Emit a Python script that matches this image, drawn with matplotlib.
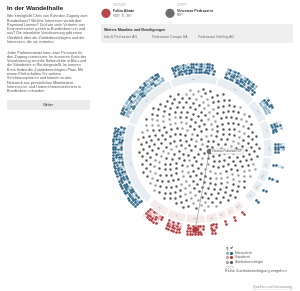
import numpy as np
import matplotlib
matplotlib.use("Agg")
import matplotlib.pyplot as plt
from matplotlib.patches import Wedge, Rectangle, Circle, Polygon

plt.rcParams['font.family'] = ['Liberation Sans', 'DejaVu Sans']

# ---------------- data ----------------
nr_parties = ["SVP", "SP", "FDP", "CVP", "GPS", "GLP", "BDP", "EVP", "Lega", "MCG", "CSP"]
nr_seats = [65, 43, 33, 27, 11, 7, 7, 2, 2, 1, 1]
nr_female = [11, 25, 7, 8, 6, 2, 2, 1, 0, 0, 0]
nr_open = [14, 10, 6, 5, 3, 2, 2, 1, 1, 0, 0]        # slots without access badge

sr_parties = ["CVP", "SP", "FDP", "SVP", "BDP", "GLP", "MCG"]
sr_seats = [13, 12, 13, 5, 1, 1, 1]
sr_female = [3, 3, 1, 0, 0, 0, 0]
sr_open = [4, 3, 3, 1, 0, 0, 0]

zutritt_total = 380
zutritt_female = 110

intro_p1 = ["Wer ermöglicht Chris von Rohr den Zugang zum",
            "Bundeshaus? Welche Interessen vertritt dort",
            "Raymond Loretan? Und wie viele Vertreter von",
            "Economiesuisse gehen in Bundesbern ein und",
            "aus? Die interaktive Visualisierung gibt einen",
            "Überblick über die Zutrittsberechtigten und die",
            "Interessen, die sie vertreten."]
intro_p2 = ["Jeder Parlamentarier kann zwei Personen für",
            "den Zugang nominieren. Im äusseren Kreis der",
            "Visualisierung sind die Nationalräte in Blau und",
            "die Ständeräte in Rot dargestellt. Im inneren",
            "Kreis finden die Zutrittsberechtigten Platz. Mit",
            "einem Klick erhalten Sie weitere",
            "Selektionsoptionen und können so das",
            "Netzwerk aus persönlichen Mitarbeitern,",
            "Interessens- und Unternehmensvertretern in",
            "Bundesbern erkunden."]
mandates = ["Isle & Pedrazzini AG", "Pedrazzini Campo SA", "Pedrazzini Holding AG"]

# ---------------- colours ----------------
NR_DARK, NR_LIGHT, NR_EDGE = "#2e6486", "#8fb3ca", "#b9c9d6"
SR_DARK, SR_LIGHT, SR_EDGE = "#b23a3f", "#e39a9c", "#e8b9b9"
ZU_DARK, ZU_LIGHT = "#575757", "#a0a0a0"
BAND_NR, BAND_SR = "#e8edf1", "#f7eaea"

fig = plt.figure(figsize=(3.0, 2.91), dpi=100)
ax = fig.add_axes([0, 0, 1, 1])
ax.set_xlim(0, 300)
ax.set_ylim(291, 0)
ax.axis("off")

CX, CY = 198.0, 149.0


def pol(r, phi):
    a = np.deg2rad(phi)
    return CX + r * np.cos(a), CY - r * np.sin(a)


def seg_angles(seats, start, end, gap=1.4):
    w = 8 + 0.85 * np.asarray(seats, float)
    span = end - start
    edges = start + np.concatenate([[0], np.cumsum(w)]) / w.sum() * span
    sgn = np.sign(span)
    return [(edges[i] + sgn * gap / 2, edges[i + 1] - sgn * gap / 2) for i in range(len(seats))]


def spread(n, k):
    """k indices spread evenly over range(n)"""
    if k <= 0:
        return set()
    return set(int(np.floor((j + 0.5) * n / k)) for j in range(k))


ROWS = 4
R0, DR = 77.0, 2.8
DPHI = np.rad2deg(2.6 / 82.0)


def draw_chamber(parties, seats, female, opn, start, end, dark, light, edge, band, collect):
    angs = seg_angles(seats, start, end)
    for p, s, f, o, (a0, a1) in zip(parties, seats, female, opn, angs):
        lo, hi = min(a0, a1), max(a0, a1)
        ax.add_patch(Wedge((CX, CY), 73.8, -hi, -lo, width=7.4, facecolor=band,
                           edgecolor="none", zorder=1))
        mid = (a0 + a1) / 2
        tx, ty = pol(70.1, mid)
        rot = mid - 90
        while rot <= -90:
            rot += 180
        while rot > 90:
            rot -= 180
        ax.text(tx, ty, p, fontsize=1.7, color="#8f979e", rotation=rot,
                ha="center", va="center", zorder=2)
        n = 2 * s
        cols = int(np.ceil(n / ROWS))
        sgn = np.sign(a1 - a0)
        fem_members = spread(s, f)
        open_slots = spread(n, o)
        for k in range(n):
            c, r = divmod(k, ROWS)
            phi = mid + sgn * (c - (cols - 1) / 2) * DPHI
            x, y = pol(R0 + r * DR, phi)
            member = k // 2
            if k in open_slots:
                ax.scatter([x], [y], s=2.8, facecolor="white", edgecolor=edge,
                           linewidth=0.4, zorder=3)
            else:
                col = light if member in fem_members else dark
                ax.scatter([x], [y], s=3.6, color=col, linewidth=0, zorder=3)
            collect.append((p, r, c, cols, x, y))


nr_pos, sr_pos = [], []
draw_chamber(nr_parties, nr_seats, nr_female, nr_open, 226.5, -46.0,
             NR_DARK, NR_LIGHT, NR_EDGE, BAND_NR, nr_pos)
draw_chamber(sr_parties, sr_seats, sr_female, sr_open, 228.5, 309.0,
             SR_DARK, SR_LIGHT, SR_EDGE, BAND_SR, sr_pos)

# ---------------- inner circle: Zutrittsberechtigte ----------------
idx = np.arange(zutritt_total)
rr = 61.0 * np.sqrt((idx + 0.5) / zutritt_total)
th = idx * 137.508
ix, iy = pol(rr, th)
fr = zutritt_female / zutritt_total
fem = np.floor((idx + 1) * fr) > np.floor(idx * fr)
ax.scatter(ix[~fem], iy[~fem], s=3.2, color=ZU_DARK, linewidth=0, zorder=3)
ax.scatter(ix[fem], iy[fem], s=3.2, color=ZU_LIGHT, linewidth=0, zorder=3)

# selected pair
sel = 13
sx, sy = ix[sel], iy[sel]
fdp_sr = [t for t in sr_pos if t[0] == "FDP" and t[1] == 1]
tgt = fdp_sr[len(fdp_sr) // 2]
ax.plot([sx, tgt[4]], [sy, tgt[5]], color="#9a9a9a", lw=0.5, zorder=4)
ax.scatter([tgt[4]], [tgt[5]], s=16, color=SR_DARK, linewidth=0, zorder=5)
ax.scatter([sx], [sy], s=16, color="#6a6a6a", linewidth=0, zorder=5)
ax.text(sx + 3, sy, "Vincenzo Pedrazzini FDP", fontsize=1.9, color="#444",
        ha="left", va="center", zorder=6,
        bbox=dict(boxstyle="square,pad=0.35", facecolor="white", edgecolor="#aaaaaa",
                  linewidth=0.3))

# ---------------- left text column ----------------
ax.text(7, 8, "In der Wandelhalle", fontsize=4.6, color="#222", fontweight="bold",
        ha="left", va="center")
y = 16.2
for line in intro_p1:
    ax.text(7, y, line, fontsize=2.72, color="#555", ha="left", va="center")
    y += 4.3
y = 52.5
for line in intro_p2:
    ax.text(7, y, line, fontsize=2.72, color="#555", ha="left", va="center")
    y += 4.3
ax.add_patch(Rectangle((7, 100), 83, 10, facecolor="#ececec", edgecolor="none"))
ax.text(48.5, 105.2, "Weiter", fontsize=2.9, color="#444", ha="center", va="center")

# ---------------- header (selection) ----------------
ax.add_patch(Circle((106, 13.3), 4.6, facecolor="#b5474b", edgecolor="none"))
ax.text(113, 5.2, "POLITIKER", fontsize=1.9, color="#aaa", ha="left", va="center")
ax.text(113, 10.5, "Fabio Abate", fontsize=2.7, color="#333", fontweight="bold",
        ha="left", va="center")
ax.text(113, 15.5, "FDP, TI, SR", fontsize=2.4, color="#666", ha="left", va="center")

ax.add_patch(Circle((170, 13.3), 4.6, facecolor="#6e6e6e", edgecolor="none"))
ax.text(177, 5.2, "ZUTRITT", fontsize=1.9, color="#aaa", ha="left", va="center")
ax.text(177, 10.5, "Vincenzo Pedrazzini", fontsize=2.7, color="#333", fontweight="bold",
        ha="left", va="center")
ax.text(177, 15.5, "FDP", fontsize=2.4, color="#666", ha="left", va="center")

ax.add_patch(Rectangle((100.5, 23.5), 192.5, 19.5, facecolor="#efefef", edgecolor="none"))
ax.add_patch(Polygon([(167, 23.6), (173, 23.6), (170, 20.6)], closed=True,
                     facecolor="#efefef", edgecolor="none"))
ax.text(103.5, 29.5, "Weitere Mandate und Beteiligungen", fontsize=2.6, color="#333",
        fontweight="bold", ha="left", va="center")
for xm, m in zip([104, 152, 198], mandates):
    ax.text(xm, 36.6, m, fontsize=2.6, color="#666", ha="left", va="center")

# ---------------- legend ----------------
LX = 227.5
ax.text(LX - 0.5, 248.3, "♀", fontsize=2.6, color="#444", ha="center", va="center",
        family=["DejaVu Sans"])
ax.text(LX + 3.5, 248.3, "♂", fontsize=2.6, color="#444", ha="center", va="center",
        family=["DejaVu Sans"])
leg = [("Nationalrat", NR_LIGHT, NR_DARK, 252.6),
       ("Ständerat", SR_LIGHT, SR_DARK, 257.4),
       ("Zutrittsberechtigte", ZU_LIGHT, ZU_DARK, 262.1)]
for lab, c1, c2, yy in leg:
    ax.scatter([LX - 0.5], [yy], s=5, color=c1, linewidth=0)
    ax.scatter([LX + 3.5], [yy], s=5, color=c2, linewidth=0)
    ax.text(LX + 7, yy, lab, fontsize=2.6, color="#555", ha="left", va="center")
ax.scatter([LX - 0.5, LX + 3.5], [266.9, 266.9], s=5, facecolor="white",
           edgecolor="#bbbbbb", linewidth=0.4)
ax.text(225, 271.4, "Keine Zutrittsberechtigung vergeben", fontsize=2.75, color="#555",
        ha="left", va="center")

ax.text(272.5, 286.8, "Quellen und Umsetzung", fontsize=2.6, color="#888",
        ha="center", va="center")
ax.plot([252, 293], [289.4, 289.4], color="#dddddd", lw=0.4)

fig.savefig("out.png", dpi=100)
